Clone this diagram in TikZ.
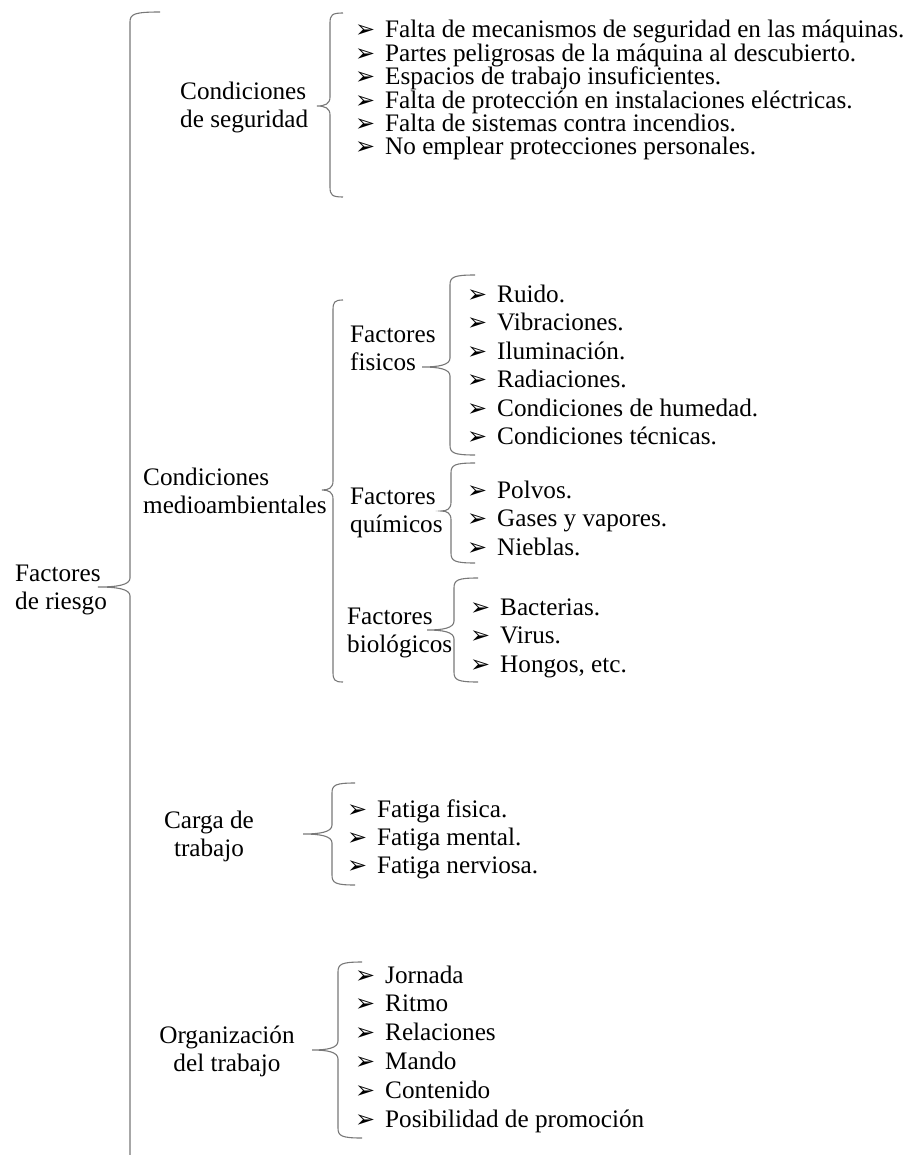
\documentclass[tikz,border=0pt]{standalone}
\usepackage{fontspec}
\setmainfont{Liberation Serif}
\newfontfamily\symfont{DejaVu Sans}
\usetikzlibrary{positioning}

\definecolor{bracegray}{RGB}{120,120,120}
\newcommand{\bul}{\makebox[30pt][l]{\symfont\fontsize{24}{24}\selectfont ➢}}
% brace: x, top, tip, bottom, hook, tip length
\newcommand{\brc}[6]{%
  \draw[brcline] (#1+#5,#2) .. controls (#1+0.15*#5,#2) and (#1,#2+2) .. (#1,#2+10)
    -- (#1,#3-9) .. controls (#1,#3-2) and (#1-0.4*#6,#3) .. (#1-#6,#3)
    .. controls (#1-0.4*#6,#3) and (#1,#3+2) .. (#1,#3+9)
    -- (#1,#4-10) .. controls (#1,#4-2) and (#1+0.15*#5,#4) .. (#1+#5,#4);}

\tikzset{
  brcline/.style={draw=bracegray, line width=1.1pt},
  lbl/.style={inner sep=0pt, align=left, font=\fontsize{25.2}{28}\selectfont},
  lblc/.style={lbl, align=center},
  item/.style={anchor=base west, inner sep=0pt, font=\fontsize{25.2}{28}\selectfont}
}

\begin{document}
\begin{tikzpicture}[x=1pt,y=-1pt]
  \useasboundingbox (0,0) rectangle (910,1155);
  \clip (0,0) rectangle (910,1155);

  % labels (base = last line)
  \node[lbl, anchor=base west] (riesgo) at (15,609) {Factores\\de riesgo};
  \node[lbl, anchor=base west] (segur) at (180,128) {Condiciones\\de seguridad};
  \node[lbl, anchor=base west] (medio) at (143,513) {Condiciones\\medioambientales};
  \node[lbl, anchor=base west] (fisic) at (350,370) {Factores\\fisicos};
  \node[lbl, anchor=base west] (quimi) at (350,532) {Factores\\químicos};
  \node[lbl, anchor=base west] (biolo) at (347,652) {Factores\\biológicos};
  \node[lblc, anchor=base] (carga) at (209,856) {Carga de\\trabajo};
  \node[lblc, anchor=base] (organ) at (227,1071) {Organización\\del trabajo};

  % braces
  \brc{130}{12}{587}{1165}{30}{32}
  \brc{330}{13}{106}{197}{13}{13}
  \brc{333}{300}{490}{682}{10}{11}
  \brc{450}{275}{367}{455}{25}{28}
  \brc{451}{463}{511}{563}{24}{10}
  \brc{454}{578}{630}{682}{24}{27}
  \brc{332}{783}{834}{885}{23}{29}
  \brc{338}{962}{1050}{1138}{24}{26}

  % lists
  \foreach \txt [count=\i] in {Falta de mecanismos de seguridad en las máquinas.,
      Partes peligrosas de la máquina al descubierto.,
      Espacios de trabajo insuficientes.,
      Falta de protección en instalaciones eléctricas.,
      Falta de sistemas contra incendios.,
      No emplear protecciones personales.}
    \node[item] (seg\i) at (355,38+23.4*\i-23.4) {\bul\txt};
  \foreach \txt [count=\i] in {Ruido., Vibraciones., Iluminación., Radiaciones.,
      Condiciones de humedad., Condiciones técnicas.}
    \node[item] (fis\i) at (467,302+28.5*\i-28.5) {\bul\txt};
  \foreach \txt [count=\i] in {Polvos., Gases y vapores., Nieblas.}
    \node[item] (qui\i) at (467,498+28.5*\i-28.5) {\bul\txt};
  \foreach \txt [count=\i] in {Bacterias., Virus., {Hongos, etc.}}
    \node[item] (bio\i) at (470,615+28.5*\i-28.5) {\bul\txt};
  \foreach \txt [count=\i] in {Fatiga fisica., Fatiga mental., Fatiga nerviosa.}
    \node[item] (car\i) at (347,817+28.3*\i-28.3) {\bul\txt};
  \foreach \txt [count=\i] in {Jornada, Ritmo, Relaciones, Mando, Contenido,
      Posibilidad de promoción}
    \node[item] (org\i) at (355,983+28.8*\i-28.8) {\bul\txt};
\end{tikzpicture}
\end{document}
